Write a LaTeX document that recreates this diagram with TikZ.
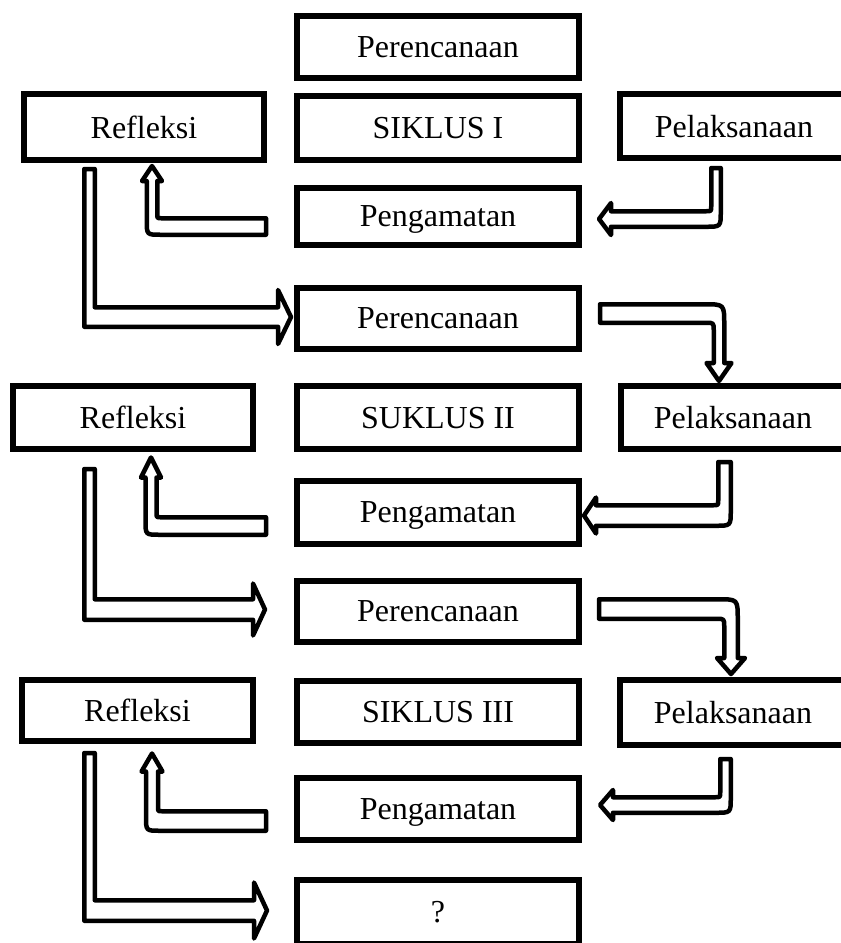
\documentclass[tikz,border=0pt]{standalone}
\usepackage{fontspec}
\setmainfont{Liberation Serif}
\usepackage{tikz}
\usetikzlibrary{calc}

% Bent block arrow, horizontal leg first
% #1 tail, #2 tip, #3 half width (horizontal leg), #4 half width (vertical leg),
% #5 head half width, #6 head length, #7 outer radius, #8 inner radius
\newcommand{\hvarrow}[8]{%
  \draw[blockarrow] let \p1=(#1), \p2=(#2),
      \n1={ifthenelse(\x2>\x1,1,-1)}, \n2={ifthenelse(\y2>\y1,1,-1)} in
    (\x1,{\y1-(\n2)*#3pt})
    -- ({\x2+(\n1)*#4pt-(\n1)*#7pt},{\y1-(\n2)*#3pt})
    .. controls ({\x2+(\n1)*#4pt},{\y1-(\n2)*#3pt}) .. ({\x2+(\n1)*#4pt},{\y1-(\n2)*#3pt+(\n2)*#7pt})
    -- ({\x2+(\n1)*#4pt},{\y2-(\n2)*#6pt})
    -- ({\x2+(\n1)*#5pt},{\y2-(\n2)*#6pt})
    -- (\x2,\y2)
    -- ({\x2-(\n1)*#5pt},{\y2-(\n2)*#6pt})
    -- ({\x2-(\n1)*#4pt},{\y2-(\n2)*#6pt})
    -- ({\x2-(\n1)*#4pt},{\y1+(\n2)*#3pt+(\n2)*#8pt})
    .. controls ({\x2-(\n1)*#4pt},{\y1+(\n2)*#3pt}) .. ({\x2-(\n1)*#4pt-(\n1)*#8pt},{\y1+(\n2)*#3pt})
    -- (\x1,{\y1+(\n2)*#3pt}) -- cycle;
}

% Bent block arrow, vertical leg first
% #1 tail, #2 tip, #3 half width (vertical leg), #4 half width (horizontal leg),
% #5 head half width, #6 head length, #7 outer radius, #8 inner radius
\newcommand{\vharrow}[8]{%
  \draw[blockarrow] let \p1=(#1), \p2=(#2),
      \n1={ifthenelse(\x2>\x1,1,-1)}, \n2={ifthenelse(\y2>\y1,1,-1)} in
    ({\x1-(\n1)*#3pt},\y1)
    -- ({\x1-(\n1)*#3pt},{\y2+(\n2)*#4pt-(\n2)*#7pt})
    .. controls ({\x1-(\n1)*#3pt},{\y2+(\n2)*#4pt}) .. ({\x1-(\n1)*#3pt+(\n1)*#7pt},{\y2+(\n2)*#4pt})
    -- ({\x2-(\n1)*#6pt},{\y2+(\n2)*#4pt})
    -- ({\x2-(\n1)*#6pt},{\y2+(\n2)*#5pt})
    -- (\x2,\y2)
    -- ({\x2-(\n1)*#6pt},{\y2-(\n2)*#5pt})
    -- ({\x2-(\n1)*#6pt},{\y2-(\n2)*#4pt})
    -- ({\x1+(\n1)*#3pt+(\n1)*#8pt},{\y2-(\n2)*#4pt})
    .. controls ({\x1+(\n1)*#3pt},{\y2-(\n2)*#4pt}) .. ({\x1+(\n1)*#3pt},{\y2-(\n2)*#4pt-(\n2)*#8pt})
    -- ({\x1+(\n1)*#3pt},\y1) -- cycle;
}

\begin{document}
\begin{tikzpicture}[x=1pt, y=-1pt,
    box/.style={draw, line width=6pt, inner sep=0pt, text depth=0pt, font=\fontsize{32}{38}\selectfont},
    midbox/.style={box, minimum width=282pt},
    blockarrow/.style={draw, fill=white, line width=4.5pt, line join=round}]

    % Page frame
    \clip (0,0) rectangle (841,943);

    % Siklus I
    \node[midbox, minimum height=62pt] (per1) at (438,47) {Perencanaan};
    \node[box, minimum width=240pt, minimum height=66pt] (ref1) at (144,127) {Refleksi};
    \node[midbox, minimum height=64pt] (sik1) at (438,128) {SIKLUS I};
    \node[box, minimum width=228pt, minimum height=64pt] (pel1) at (734,126) {Pelaksanaan};
    \node[midbox, minimum height=57pt] (pen1) at (438,216.5) {Pengamatan};

    % Siklus II
    \node[midbox, minimum height=61pt] (per2) at (438,318.5) {Perencanaan};
    \node[box, minimum width=240pt, minimum height=63pt] (ref2) at (133,417.5) {Refleksi};
    \node[midbox, minimum height=63pt] (sik2) at (438,417.5) {SUKLUS II};
    \node[box, minimum width=224pt, minimum height=63pt] (pel2) at (733,417.5) {Pelaksanaan};
    \node[midbox, minimum height=63pt] (pen2) at (438,512.5) {Pengamatan};

    % Siklus III
    \node[midbox, minimum height=61pt] (per3) at (438,611.5) {Perencanaan};
    \node[box, minimum width=231pt, minimum height=61pt] (ref3) at (137.5,710.5) {Refleksi};
    \node[midbox, minimum height=62pt] (sik3) at (438,712) {SIKLUS III};
    \node[box, minimum width=226pt, minimum height=65pt] (pel3) at (733,712.5) {Pelaksanaan};
    \node[midbox, minimum height=62pt] (pen3) at (438,809) {Pengamatan};

    % Next step
    \node[midbox, minimum height=64pt] (next) at (438,912) {?};

    % Pelaksanaan -> Pengamatan
    \vharrow{$(pel1.south)+(-18,7)$}{$(pen1.east)+(17,2.5)$}{4.75}{7.75}{16}{12}{15}{5}
    \vharrow{$(pel2.south)+(-8.5,10)$}{$(pen2.east)+(2,3)$}{6.25}{10.25}{18}{12}{15}{5}
    \vharrow{$(pel3.south)+(-7.5,11)$}{$(pen3.east)+(18,-4)$}{5.25}{7.75}{15}{13}{15}{5}

    % Pengamatan -> Refleksi
    \hvarrow{$(pen1.west)+(-28,10)$}{$(ref1.south)+(8,3)$}{8.25}{5.25}{10}{15}{14}{4}
    \hvarrow{$(pen2.west)+(-28,13.5)$}{$(ref2.south)+(18,5.5)$}{8.75}{5.5}{10}{20}{14}{4}
    \hvarrow{$(pen3.west)+(-28,12)$}{$(ref3.south)+(14.5,9.5)$}{9.75}{6}{10.5}{18}{14}{4}

    % Refleksi -> next Perencanaan
    \vharrow{$(ref1.south)+(-54.5,6)$}{$(per2.west)+(-3,-1.5)$}{5.25}{9.75}{27}{13}{0}{0}
    \vharrow{$(ref2.south)+(-43.5,17)$}{$(per3.west)+(-29,-2)$}{5.25}{10.25}{26}{12}{0}{0}
    \vharrow{$(ref3.south)+(-48,9)$}{$(next.west)+(-27,-1.5)$}{5.25}{10.25}{28}{13}{0}{0}

    % Perencanaan -> Pelaksanaan
    \hvarrow{$(per2.east)+(18,-5)$}{$(pel2.north)+(-14,-2)$}{9.25}{5.25}{12.5}{18}{20}{8}
    \hvarrow{$(per3.east)+(17,-2.5)$}{$(pel3.north)+(-2,-3)$}{9.75}{6.75}{14}{16}{20}{8}
\end{tikzpicture}
\end{document}
